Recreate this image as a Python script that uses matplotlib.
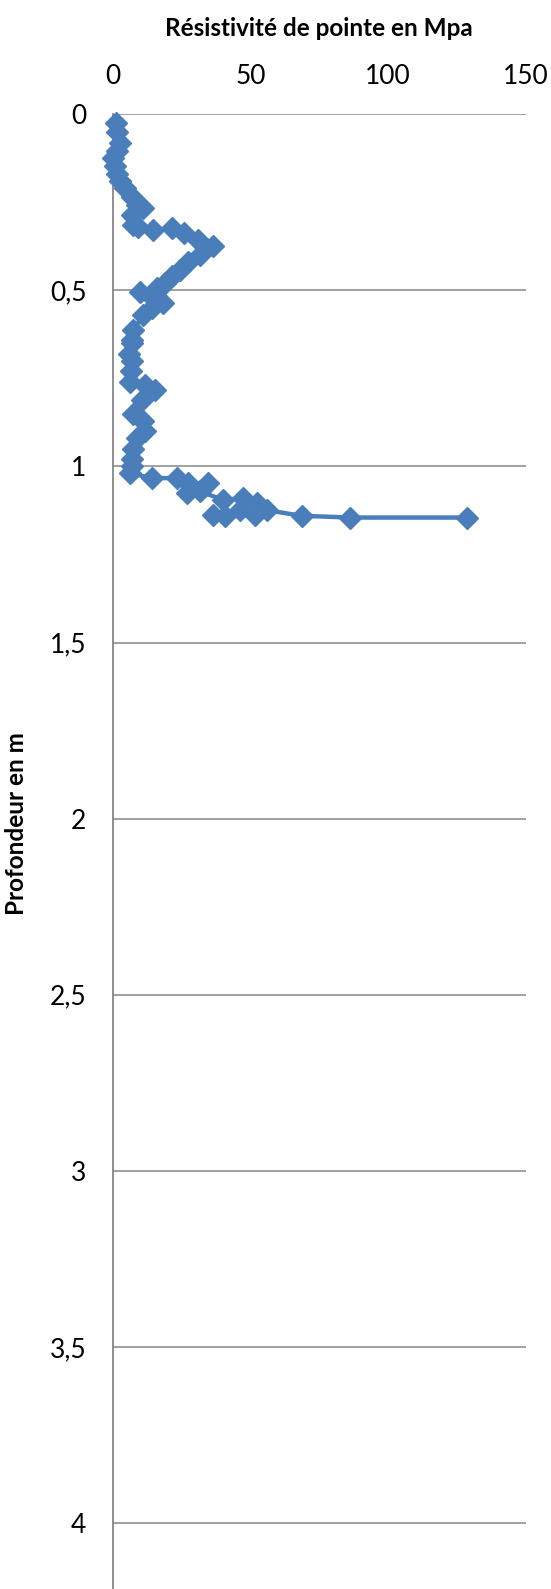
import matplotlib
matplotlib.use("Agg")
import matplotlib.pyplot as plt

# cone resistance (MPa) vs depth (m)
depth = [0.026, 0.05, 0.082, 0.105, 0.125, 0.148, 0.17, 0.19,
         0.21, 0.234, 0.258, 0.267, 0.286, 0.314, 0.32, 0.328,
         0.324, 0.338, 0.357, 0.374, 0.40, 0.42, 0.442, 0.46,
         0.48, 0.494, 0.504, 0.52, 0.537, 0.55, 0.57, 0.613,
         0.64, 0.65, 0.68, 0.70, 0.73, 0.76, 0.77, 0.783,
         0.81, 0.85, 0.87, 0.90, 0.92, 0.95, 0.98, 1.0,
         1.019, 1.033, 1.033, 1.048, 1.048, 1.076, 1.071, 1.095,
         1.09, 1.105, 1.124, 1.138, 1.142, 1.138, 1.124, 1.14,
         1.145, 1.145]
resistance = [1.1, 1.5, 2.7, 1.6, 0.0, 0.8, 1.4, 2.7,
              4.5, 6.9, 8.7, 11.1, 6.9, 7.5, 9.3, 14.8,
              21.4, 26.0, 31.1, 36.5, 31.7, 27.5, 24.4, 21.4,
              19.0, 16.0, 9.9, 14.2, 18.4, 14.2, 11.1, 7.5,
              6.9, 6.9, 6.0, 7.0, 6.5, 6.3, 11.8, 15.4,
              10.5, 7.5, 11.0, 11.8, 8.8, 7.5, 7.0, 7.0,
              6.3, 14.2, 23.2, 27.5, 34.7, 26.9, 31.7, 40.2,
              47.4, 52.3, 46.2, 36.5, 40.8, 51.7, 55.9, 68.6,
              86.2, 128.6]

xticks = [0, 50, 100, 150]
yticks = [0, 0.5, 1, 1.5, 2, 2.5, 3, 3.5, 4]
ytick_labels = ["0", "0,5", "1", "1,5", "2", "2,5", "3", "3,5", "4"]

plt.rcParams['font.family'] = ['Lato', 'DejaVu Sans']

fig = plt.figure(figsize=(5.51, 15.89), dpi=100)
ax = fig.add_axes([0.2045, 0.0, 0.7495, 0.9281])

grid_color = '#868686'
for y in yticks:
    ax.axhline(y, color=grid_color, lw=1.1, zorder=1)

ax.plot(resistance, depth, color='#4A7EBB', lw=3.2, marker='D',
        markersize=11, markerfacecolor='#4A7EBB', markeredgecolor='#4A7EBB',
        zorder=3, clip_on=False)

ax.set_xlim(0, 150)
ax.set_ylim(4.187, 0)
ax.xaxis.tick_top()
ax.set_xticks(xticks)
ax.set_yticks(yticks)
ax.set_yticklabels(ytick_labels)
ax.tick_params(axis='both', length=0, labelsize=19, colors='black')
ax.tick_params(axis='x', pad=18)
ax.tick_params(axis='y', pad=19)

for s in ['top', 'right', 'bottom']:
    ax.spines[s].set_visible(False)
ax.spines['left'].set_color(grid_color)
ax.spines['left'].set_linewidth(1.3)

fig.text(319 / 551, 1 - 28 / 1589, 'Résistivité de pointe en Mpa', fontsize=17.5,
         fontweight='bold', ha='center', va='center')
fig.text(17 / 551, 1 - 824 / 1589, 'Profondeur en m', fontsize=17.5,
         fontweight='bold', ha='center', va='center', rotation=90)

fig.savefig('out.png', dpi=100)
